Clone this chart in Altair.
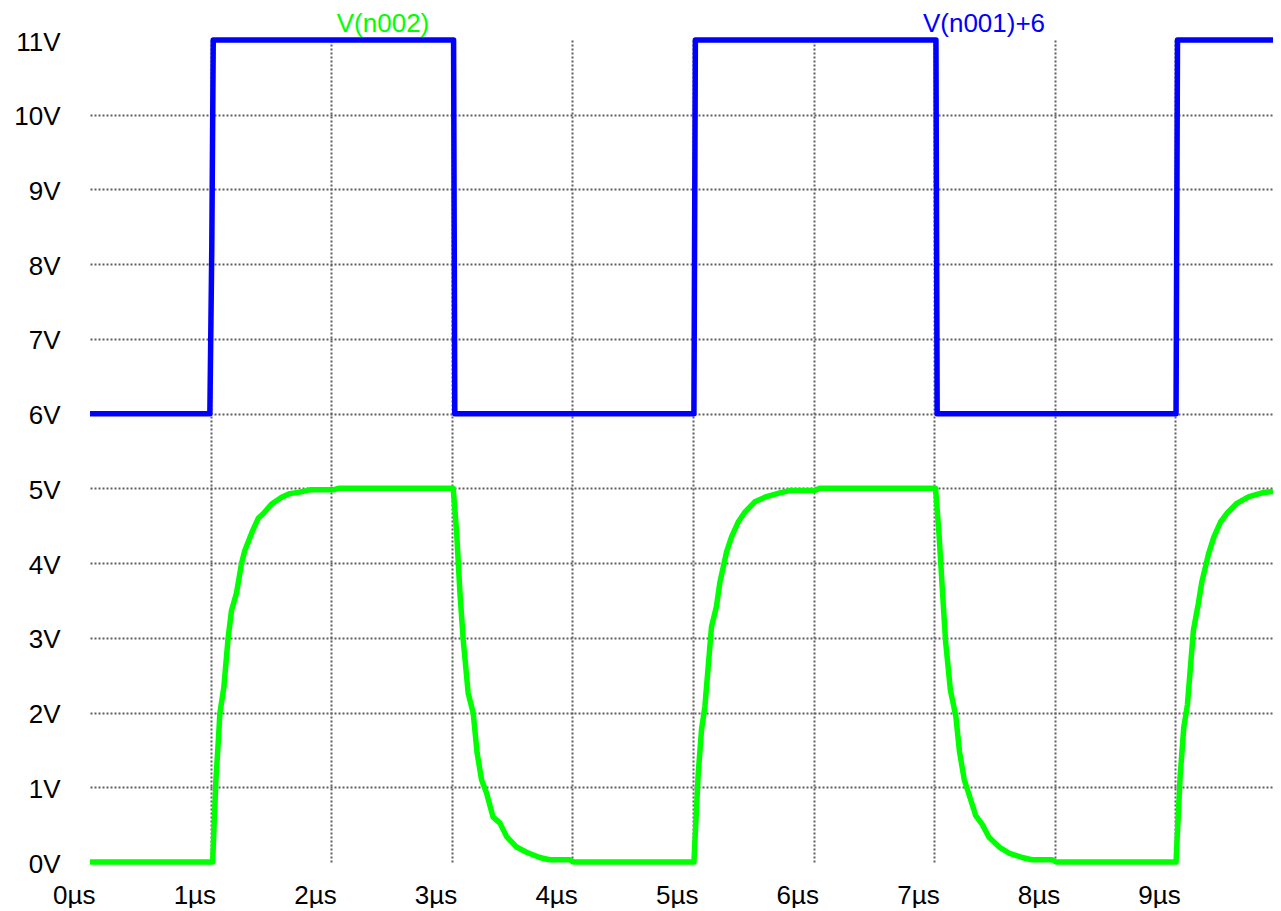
import altair as alt
import pandas as pd

# ---- data (time in µs, voltage in V) ----
blue_t = [0, 0.994, 1.01, 1.022, 3.015, 3.025, 5.008, 5.02, 7.015, 7.025, 9.006, 9.018, 9.81]
blue_v = [6, 6, 8.23, 11, 11, 6, 6, 11, 11, 6, 6, 11, 11]

green_t = [0, 1.017, 1.044, 1.063, 1.077, 1.11, 1.146, 1.174, 1.215, 1.257, 1.284, 1.34,
           1.395, 1.436, 1.506, 1.589, 1.658, 1.74, 1.823, 2.017, 2.06,
           3.012, 3.04, 3.067, 3.095, 3.136, 3.178, 3.21, 3.247, 3.289, 3.343, 3.40,
           3.455, 3.537, 3.62, 3.73, 3.81, 3.98, 4.007,
           5.008, 5.044, 5.071, 5.099, 5.154, 5.195, 5.223, 5.279, 5.32, 5.375, 5.43,
           5.513, 5.61, 5.72, 5.80, 6.01, 6.05,
           7.012, 7.04, 7.068, 7.095, 7.135, 7.18, 7.21, 7.25, 7.29, 7.345, 7.40,
           7.455, 7.54, 7.62, 7.73, 7.81, 7.98, 8.01,
           9.006, 9.04, 9.07, 9.10, 9.15, 9.19, 9.22, 9.275, 9.32, 9.375, 9.43,
           9.51, 9.61, 9.72, 9.81]
green_v = [0, 0, 1.10, 1.59, 1.99, 2.34, 3.01, 3.37, 3.60, 4.00, 4.17, 4.40,
           4.60, 4.66, 4.79, 4.88, 4.93, 4.95, 4.98, 4.98, 5.0,
           5.0, 4.42, 3.62, 2.97, 2.26, 1.99, 1.46, 1.10, 0.92, 0.60, 0.52,
           0.34, 0.20, 0.13, 0.06, 0.03, 0.03, 0,
           0, 1.19, 1.77, 2.08, 3.15, 3.42, 3.74, 4.15, 4.35, 4.55, 4.68,
           4.82, 4.89, 4.94, 4.97, 4.97, 5.0,
           5.0, 4.40, 3.65, 2.95, 2.30, 1.95, 1.48, 1.10, 0.90, 0.62, 0.50,
           0.33, 0.20, 0.12, 0.06, 0.03, 0.03, 0,
           0, 1.15, 1.80, 2.10, 3.10, 3.45, 3.75, 4.12, 4.35, 4.55, 4.67,
           4.80, 4.89, 4.94, 4.96]

trace_names = ["V(n002)", "V(n001)+6"]
trace_colors = ["#00ff00", "#0000ff"]

x_ticks = [0, 1, 2, 3, 4, 5, 6, 7, 8, 9]
y_ticks = [0, 1, 2, 3, 4, 5, 6, 7, 8, 9, 10, 11]

FONT = "Liberation Sans"

blue_df = pd.DataFrame({"t": blue_t, "v": blue_v, "i": list(range(len(blue_t)))})
green_df = pd.DataFrame({"t": green_t, "v": green_v, "i": list(range(len(green_t)))})

grid_common = dict(
    grid=True,
    gridColor="#5f5f5f",
    gridDash=[2, 2],
    gridWidth=2,
    gridOpacity={"condition": {"test": "datum.value == 0 || datum.value == 11", "value": 0}, "value": 1},
    domain=False,
    ticks=False,
    tickSize=0,
    labelFont=FONT,
    labelFontSize=26,
    labelColor="#000000",
    title=None,
)

x_enc = alt.X(
    "t:Q",
    scale=alt.Scale(domain=[0, 9.81], nice=False, zero=False),
    axis=alt.Axis(
        values=x_ticks,
        labelExpr="datum.value + 'µs'",
        labelAlign="right",
        labelBaseline="alphabetic",
        labelPadding=41,
        labelOffset=5,
        labelFlush=False,
        labelOverlap=False,
        **grid_common,
    ),
)
y_enc = alt.Y(
    "v:Q",
    scale=alt.Scale(domain=[0, 11], nice=False, zero=False),
    axis=alt.Axis(
        values=y_ticks,
        labelExpr="datum.value + 'V'",
        labelAlign="right",
        labelBaseline="alphabetic",
        labelOffset=10,
        labelPadding=30,
        labelFlush=False,
        labelOverlap=False,
        **grid_common,
    ),
)

green_line = alt.Chart(green_df).mark_line(
    color=trace_colors[0], strokeWidth=5.5, strokeJoin="round", clip=False
).encode(x=x_enc, y=y_enc, order="i:Q")

blue_line = alt.Chart(blue_df).mark_line(
    color=trace_colors[1], strokeWidth=5.5, strokeJoin="round", clip=False
).encode(x=x_enc, y=y_enc, order="i:Q")

label_green = alt.Chart(pd.DataFrame({"name": [trace_names[0]]})).mark_text(
    font=FONT, fontSize=26, color=trace_colors[0], align="center", baseline="alphabetic"
).encode(text="name:N", x=alt.value(293), y=alt.value(-8))

label_blue = alt.Chart(pd.DataFrame({"name": [trace_names[1]]})).mark_text(
    font=FONT, fontSize=26, color=trace_colors[1], align="center", baseline="alphabetic"
).encode(text="name:N", x=alt.value(894), y=alt.value(-8))

chart = alt.layer(green_line, blue_line, label_green, label_blue).properties(
    width=1183,
    height=822,
    autosize=alt.AutoSizeParams(type="none"),
    padding={"left": 82, "top": 32, "right": 0, "bottom": 46},
    background="#ffffff",
).configure_view(stroke=None)

chart.save("out.html", embed_options={"renderer": "svg", "actions": False})
